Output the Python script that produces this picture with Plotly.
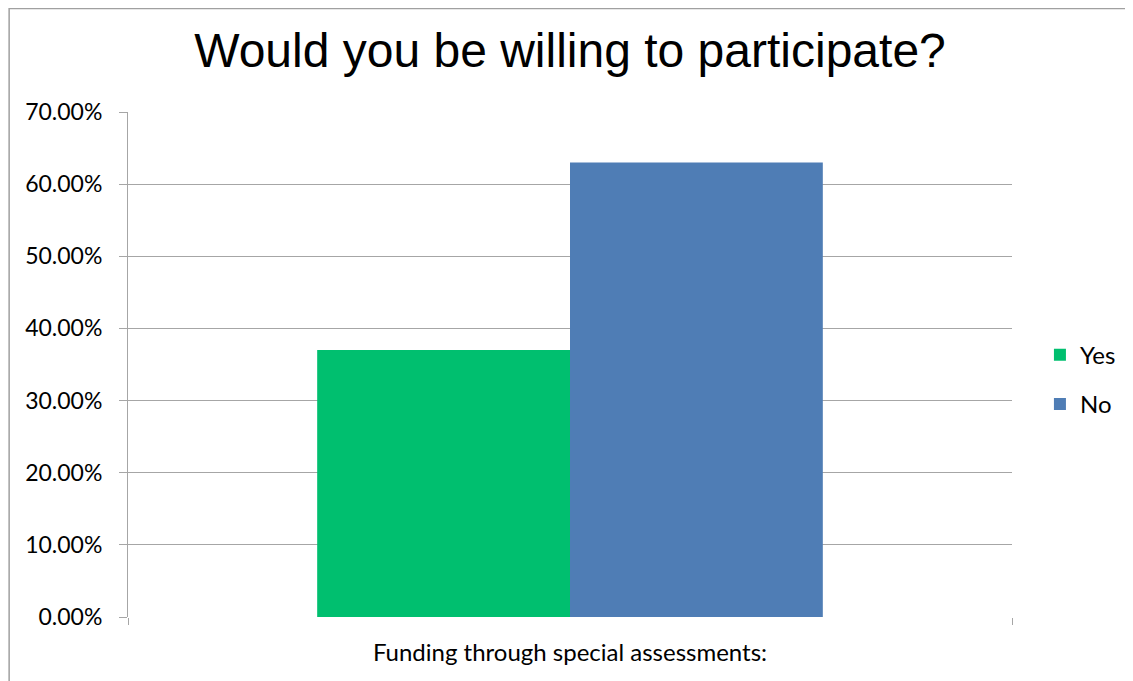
import plotly.graph_objects as go

# data
categories = ["Funding through special assessments:"]
yes_values = [0.37]
no_values = [0.63]
y_ticks = [0, 0.1, 0.2, 0.3, 0.4, 0.5, 0.6, 0.7]

fig = go.Figure()
fig.add_trace(go.Bar(x=categories, y=yes_values, name="Yes", legendgroup="yes",
                     marker=dict(color="#00BF6F", line=dict(width=0))))
fig.add_trace(go.Bar(x=categories, y=no_values, name="No", legendgroup="no",
                     marker=dict(color="#4F7DB5", line=dict(width=0))))

# the page has an 8px body margin, so the figure is 8px smaller than the window
fig.update_layout(
    width=1125, height=673, autosize=False,
    margin=dict(l=120, r=112, t=104, b=64),
    paper_bgcolor="white", plot_bgcolor="white",
    barmode="group", bargap=0.428, bargroupgap=0,
    title=dict(text="Would you be willing to participate?", x=0.5, xanchor="center",
               xref="paper", y=1 - 42 / 673, yanchor="middle",
               font=dict(family="Liberation Sans", size=48, color="black")),
    font=dict(family="Lato", size=23, color="black"),
    legend=dict(x=1.0316, y=0.47, xanchor="left", yanchor="middle",
                font=dict(size=24), tracegroupgap=15, itemwidth=30),
    showlegend=True,
)
fig.update_yaxes(range=[0, 0.7], tickvals=y_ticks, tickformat=".2%",
                 showgrid=True, gridcolor="#A6A6A6", gridwidth=1,
                 showline=True, linecolor="#A6A6A6", linewidth=1,
                 ticks="outside", ticklen=8, tickcolor="#A6A6A6", zeroline=False,
                 tickfont=dict(size=23), ticklabelstandoff=12)
fig.update_xaxes(range=[-0.5, 0.5], showline=False, ticks="outside", tickson="boundaries",
                 ticklen=7, tickcolor="#A6A6A6", tickfont=dict(size=24),
                 ticklabelstandoff=19)
# outer chart border
fig.add_shape(type="rect", xref="paper", yref="paper",
              x0=-119 / 885, x1=1200 / 885,
              y0=-200 / 505, y1=(505 + 103.5) / 505,
              line=dict(color="#A0A0A0", width=1.5), layer="below")

fig.write_html("out.html")
